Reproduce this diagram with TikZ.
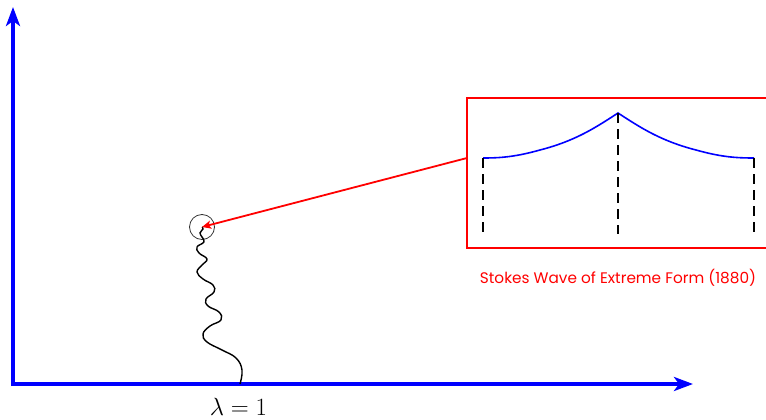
\documentclass[tikz,border=0pt]{standalone}
\usepackage{fontspec}
\newfontfamily\capfont{Poppins}
\usetikzlibrary{arrows.meta}
\definecolor{axblue}{RGB}{0,0,255}
\definecolor{boxred}{RGB}{255,0,0}
\begin{document}
\begin{tikzpicture}[x=1pt,y=-1pt,
  axis/.style={draw=axblue,line width=4pt,-{Stealth[length=19pt,width=14pt,inset=5pt]}},
  pointer/.style={draw=boxred,line width=1.8pt,-{Stealth[length=9pt,width=8pt,inset=2pt]}},
  frame/.style={draw=boxred,line width=1.6pt},
  wave/.style={draw=axblue,line width=1.6pt},
  guide/.style={draw=black,line width=2.6pt,dash pattern=on 10pt off 6pt},
  wiggle/.style={draw=black,line width=1.4pt}]
\useasboundingbox (0,0) rectangle (766,420);
% axes
\coordinate (O) at (13,384);
\coordinate (Ytip) at (13,7);
\coordinate (Xtip) at (693,384);
\draw[axis] (13,386) -- (Ytip);
\draw[axis] (11,384) -- (Xtip);
% label
\node[anchor=base,inner sep=0pt,font=\fontsize{30}{34}\selectfont] (lam) at (238.5,415.5) {$\lambda=1$};
% circle
\node[draw=black!80,circle,minimum size=25pt,inner sep=0pt,line width=0.8pt] (c) at (202,227) {};
% wiggly path
\draw[wiggle] plot[smooth,tension=0.7] coordinates {(240,384) (242,370) (236,358) (222,350) (207,342) (203,334) (210,326) (221,320) (219,312) (208,306) (206,299) (214,292) (213,285) (203,279) (197,272) (202,265) (207,259) (199,253) (197,247) (204,242) (202,237) (200,233) (203,229) (202,227)};
% box
\draw[frame] (467,98) rectangle (772,248);
\coordinate (boxL) at (467,158);
\draw[pointer] (boxL) -- (c.center);
% stokes wave
\coordinate (A) at (483,158);
\coordinate (P) at (618,113);
\coordinate (B) at (754,158);
\draw[wave] (A) .. controls (500,158) and (515,157) .. (540,150) .. controls (575,141) and (595,128) .. (P)
  .. controls (641,128) and (661,141) .. (696,150) .. controls (721,157) and (736,158) .. (B);
\draw[guide] (A) -- (483,234);
\draw[guide] (P) -- (618,234);
\draw[guide] (B) -- (754,234);
\node[text=boxred,font=\capfont\fontsize{15.3}{18}\selectfont,inner sep=0pt] (cap) at (618,278) {Stokes Wave of Extreme Form (1880)};
\end{tikzpicture}
\end{document}
